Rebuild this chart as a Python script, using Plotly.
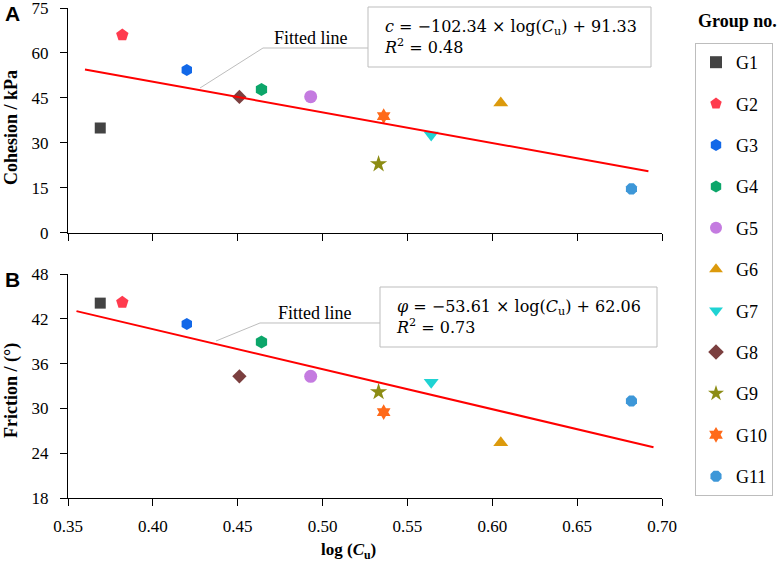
import plotly.graph_objects as go

W, H = 782, 563

# data
groups = ["G1", "G2", "G3", "G4", "G5", "G6", "G7", "G8", "G9", "G10", "G11"]
log_cu = [0.369, 0.382, 0.420, 0.464, 0.493, 0.605, 0.564, 0.451, 0.533, 0.536, 0.682]
cohesion = [34.9, 66.0, 54.3, 47.8, 45.4, 43.3, 32.6, 45.3, 22.9, 38.9, 14.6]
friction = [44.1, 44.2, 41.3, 38.9, 34.3, 25.4, 33.5, 34.3, 32.2, 29.5, 31.0]

# fitted lines
c_slope, c_icpt = -102.34, 91.33
f_slope, f_icpt = -53.61, 62.06
c_fit_x = [0.360, 0.692]
f_fit_x = [0.355, 0.695]

symbols = ["square", "pentagon", "hexagon", "hexagon", "circle", "triangle-up",
           "triangle-down", "diamond", "star", "hexagram", "octagon"]
colors = ["#434343", "#FF3B4E", "#1268E8", "#0CA66A", "#C47BE0", "#DC9A0C",
          "#1FD3D3", "#7B3F3F", "#8C8C14", "#FF6A1A", "#3D97D8"]
sizes = [11, 13, 12, 13, 13, 13, 13, 11, 13, 12, 12]

SERIF = "Liberation Serif, Times New Roman, serif"
MATH = "DejaVu Serif, serif"


def px(x):
    return x / W


def py(y):
    return 1 - y / H


fig = go.Figure()

for i, g in enumerate(groups):
    mk = dict(symbol=symbols[i], color=colors[i], size=sizes[i], line=dict(width=0))
    fig.add_trace(go.Scatter(x=[log_cu[i]], y=[cohesion[i]], mode="markers", name=g,
                             marker=mk, legendgroup=g, xaxis="x", yaxis="y"))
    fig.add_trace(go.Scatter(x=[log_cu[i]], y=[friction[i]], mode="markers", name=g,
                             marker=mk, legendgroup=g, showlegend=False,
                             xaxis="x2", yaxis="y2"))

fig.add_trace(go.Scatter(x=c_fit_x, y=[c_slope * v + c_icpt for v in c_fit_x],
                         mode="lines", line=dict(color="#FF0000", width=2),
                         showlegend=False, xaxis="x", yaxis="y"))
fig.add_trace(go.Scatter(x=f_fit_x, y=[f_slope * v + f_icpt for v in f_fit_x],
                         mode="lines", line=dict(color="#FF0000", width=2),
                         showlegend=False, xaxis="x2", yaxis="y2"))

xdom = [px(68), px(662)]
axfont = dict(family=SERIF, size=17, color="black")
common_x = dict(range=[0.35, 0.70], dtick=0.05, tick0=0.35, domain=xdom,
                showline=True, linecolor="black", linewidth=1, ticks="outside",
                ticklen=7, tickcolor="black", showgrid=False, zeroline=False,
                tickfont=axfont, automargin=False, ticklabeloverflow="allow")
common_y = dict(showline=True, linecolor="black", linewidth=1, ticks="outside",
                ticklen=7, tickcolor="black", showgrid=False, zeroline=False,
                tickfont=axfont, ticklabelstandoff=8, automargin=False,
                ticklabeloverflow="allow")

fig.update_layout(
    width=W, height=H,
    margin=dict(l=0, r=0, t=0, b=0, autoexpand=False),
    paper_bgcolor="white", plot_bgcolor="white",
    font=dict(family=SERIF, color="black"),
    xaxis=dict(common_x, anchor="y", showticklabels=False),
    yaxis=dict(common_y, range=[0, 75], dtick=15, anchor="x",
               domain=[py(232.6), py(8)]),
    xaxis2=dict(common_x, anchor="y2", tickformat=".2f", ticklabelstandoff=6),
    yaxis2=dict(common_y, range=[18, 48], dtick=6, anchor="x2",
                domain=[py(498), py(274)]),
    legend=dict(x=px(695), y=py(43), xanchor="left", yanchor="top",
                bordercolor="#BDBDBD", borderwidth=1, bgcolor="white",
                font=dict(family=SERIF, size=18, color="black"),
                tracegroupgap=15, itemsizing="constant", entrywidth=48),
    showlegend=True,
)

ann = [
    dict(text="<b>A</b>", x=px(12), y=py(14), font=dict(family="Liberation Sans, Arial, sans-serif", size=21)),
    dict(text="<b>B</b>", x=px(12), y=py(279), font=dict(family="Liberation Sans, Arial, sans-serif", size=21)),
    dict(text="<b>Cohesion / kPa</b>", x=px(11), y=py(128), textangle=-90,
         font=dict(family=SERIF, size=18)),
    dict(text="<b>Friction / (°)</b>", x=px(11), y=py(391), textangle=-90,
         font=dict(family=SERIF, size=18)),
    dict(text="<b>log (<i>C</i><sub>u</sub>)</b>", x=px(348), y=py(551),
         font=dict(family=SERIF, size=17)),
    dict(text="<b>Group no.</b>", x=px(737), y=py(21), font=dict(family=SERIF, size=18)),
    dict(text="Fitted line", x=px(311), y=py(38), font=dict(family=SERIF, size=18)),
    dict(text="Fitted line", x=px(315), y=py(313), font=dict(family=SERIF, size=18)),
    dict(text="<i>c</i> = −102.34 × log(<i>C</i><sub>u</sub>) + 91.33<br><i>R</i><sup>2</sup> = 0.48",
         x=px(382), y=py(37), xanchor="left", align="left",
         font=dict(family=MATH, size=16)),
    dict(text="<i>φ</i> = −53.61 × log(<i>C</i><sub>u</sub>) + 62.06<br><i>R</i><sup>2</sup> = 0.73",
         x=px(394), y=py(317), xanchor="left", align="left",
         font=dict(family=MATH, size=16)),
]
for a in ann:
    a.update(xref="paper", yref="paper", showarrow=False, yanchor="middle")
    a.setdefault("xanchor", "center")
    a["font"].setdefault("color", "black")
    fig.add_annotation(**a)

shapes = [
    # equation boxes
    dict(type="rect", x0=px(368), x1=px(651), y0=py(67), y1=py(7)),
    dict(type="rect", x0=px(380), x1=px(657), y0=py(347), y1=py(287)),
    # callout leaders
    dict(type="path", path="M %f %f L %f %f L %f %f" % (px(200), py(88), px(263), py(48), px(368), py(48))),
    dict(type="path", path="M %f %f L %f %f L %f %f" % (px(216), py(341), px(260), py(323), px(380), py(323))),
]
for s in shapes:
    s.update(xref="paper", yref="paper", line=dict(color="#BDBDBD", width=1))
    fig.add_shape(**s)

# drop the default page margin so the figure fills the window
fig.write_html("out.html", config={"displayModeBar": False},
               post_script="document.body.style.margin='0';")
